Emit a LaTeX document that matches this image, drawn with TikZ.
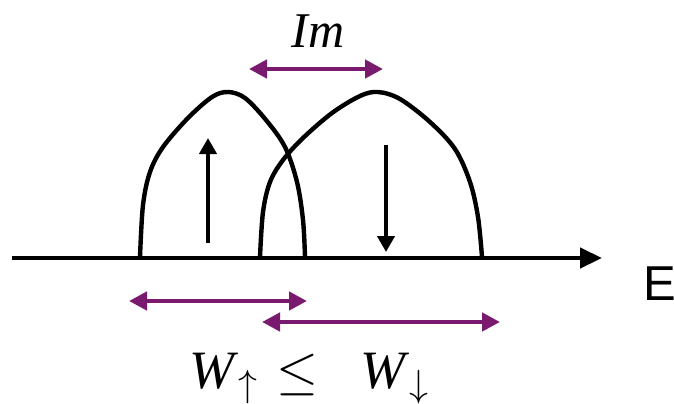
\documentclass[tikz,border=0pt]{standalone}
\usepackage{fix-cm}
\usepackage{amsmath,amssymb}
\usepackage{fontspec}
\setmainfont{Liberation Serif}
\newfontfamily\labelsans{Liberation Sans}
\usetikzlibrary{arrows.meta, positioning, calc}
\definecolor{plum}{HTML}{7A1A6E}
\definecolor{ink}{HTML}{000000}

\tikzset{
  band/.style={ink, line width=2.2pt, line join=round},
  spin/.style={ink, line width=2.2pt, -{Triangle[length=8pt, width=8.5pt]}},
  width/.style={plum, line width=2.2pt, {Triangle[length=9pt, width=9pt]}-{Triangle[length=9pt, width=9pt]}},
}

\begin{document}
\begin{tikzpicture}[x=0.5pt, y=-0.5pt]

% Canvas (pixel grid of the reference, y downwards)
\useasboundingbox (0,0) rectangle (674,403);

% Energy axis
\coordinate (axstart) at (12,258);
\coordinate (axend) at (602,258);
\draw[ink, line width=2.2pt, -{Triangle[length=11pt, width=10pt]}] (axstart) -- (axend);
\node[font=\labelsans\fontsize{24.5}{28}\selectfont, anchor=base] (elabel) at (660,300) {E};

% Spin-up band
\draw[band] plot[smooth, tension=0.55] coordinates {
  (140,257) (143,205) (150,172) (163,147) (188,118) (212,97) (228,92)
  (245,98) (266,120) (285,147) (297,182) (303,220) (305,257)};

% Spin-down band
\draw[band] plot[smooth, tension=0.55] coordinates {
  (260,257) (263,212) (270,182) (283,160) (303,138) (332,113) (360,96)
  (378,92) (400,99) (430,122) (455,149) (470,182) (478,217) (482,257)};

% Spin arrows
\coordinate (upfoot) at (208,243);
\coordinate (uphead) at (208,138);
\draw[spin] (upfoot) -- (uphead);
\coordinate (dnfoot) at (386,145);
\coordinate (dnhead) at (386,252);
\draw[spin] (dnfoot) -- (dnhead);

% Exchange splitting
\node[font=\fontsize{25}{30}\selectfont\itshape, anchor=base] (imlabel) at (318,47) {Im};
\coordinate (iml) at (249,69);
\coordinate (imr) at (383,69);
\draw[width] (iml) -- (imr);

% Band widths
\coordinate (wul) at (129,301);
\coordinate (wur) at (307,301);
\draw[width] (wul) -- (wur);
\coordinate (wdl) at (262,322);
\coordinate (wdr) at (500,322);
\draw[width] (wdl) -- (wdr);

% Width relation
\node[font=\fontsize{27}{32}\selectfont, anchor=base] (relation) at (309,388)
  {\textit{W}$_{\uparrow}$\hspace{9pt}$\leq$\hspace{21pt}\textit{W}$_{\downarrow}$};

\end{tikzpicture}
\end{document}
